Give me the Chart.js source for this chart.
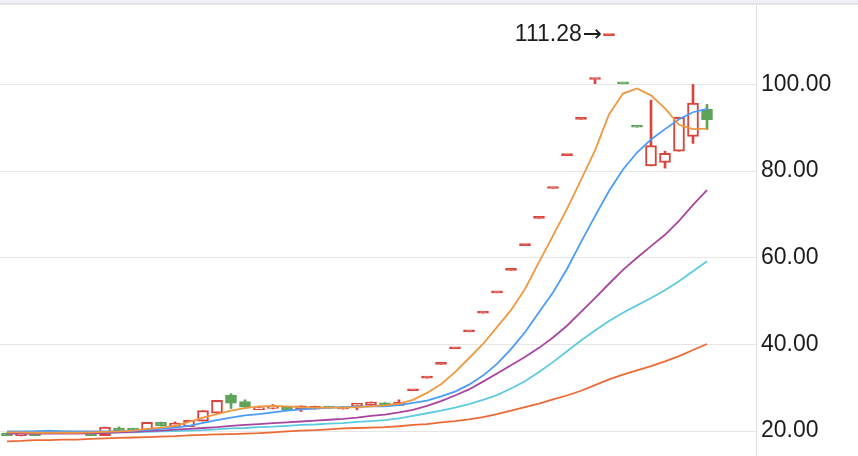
<!DOCTYPE html>
<html>
<head>
<meta charset="utf-8">
<script src="https://cdn.jsdelivr.net/npm/chart.js@4.4.1/dist/chart.umd.min.js"></script>
<style>
  body { margin: 0; background: #fff; }
  .topbar { height: 3px; background: #eef0f5; border-bottom: 2px solid #e2e4e9; }
  canvas { display: block; }
</style>
</head>
<body>
<div class="topbar"></div>
<canvas id="kline" width="858" height="451"></canvas>
<script>
// 54 slots on the x axis, the last 3 are empty space on the right
const days = Array.from({ length: 54 }, (_, i) => 'D' + (i + 1));

const open = [19.55, 18.9, 19.45, 19.5, 19.7, 19.55, 19.1, 18.95, 20.7, 20.6,
  20.05, 22.0, 21.05, 21.0, 22.3, 24.1, 28.3, 26.8, 24.95, 25.2,
  25.5, 25.1, 25.1, 25.6, 25.1, 25.7, 25.9, 26.5, 25.9, 29.3,
  32.2, 35.4, 39.0, 42.9, 47.2, 51.9, 57.1, 62.8, 69.1, 76.0,
  83.6, 91.97, 101.16, 111.28, 100.15, 90.14, 81.2, 82.0, 84.6, 88.0,
  94.3];
const close = [18.95, 19.0, 18.95, 19.7, 19.55, 19.7, 18.95, 20.9, 20.0, 20.2,
  22.0, 21.2, 21.8, 22.45, 24.7, 27.1, 26.4, 25.5, 25.4, 25.8,
  24.8, 25.8, 25.7, 25.3, 25.6, 26.4, 26.7, 25.8, 26.7, 29.3,
  32.2, 35.4, 39.0, 42.9, 47.2, 51.9, 57.1, 62.8, 69.1, 76.0,
  83.6, 91.97, 101.16, 111.28, 100.15, 90.14, 85.9, 84.1, 92.4, 95.7,
  91.9];
const high = [19.6, 19.05, 19.5, 19.75, 19.75, 19.75, 19.15, 20.9, 20.95, 20.65,
  22.0, 22.05, 22.1, 22.45, 24.7, 27.1, 28.6, 27.2, 25.4, 26.1,
  25.55, 25.8, 25.75, 25.65, 25.6, 26.4, 26.7, 26.55, 27.2, 29.3,
  32.2, 35.4, 39.0, 42.9, 47.2, 51.9, 57.1, 62.8, 69.1, 76.0,
  83.6, 91.97, 101.16, 111.28, 100.15, 90.14, 96.4, 84.6, 92.4, 100.0,
  95.4];
const low = [18.9, 18.85, 18.9, 19.45, 19.5, 19.5, 18.9, 18.95, 19.95, 20.15,
  20.05, 21.15, 21.0, 21.0, 22.3, 24.1, 25.2, 25.45, 24.95, 25.1,
  24.75, 24.5, 25.05, 25.25, 25.05, 24.9, 25.85, 25.75, 25.85, 29.3,
  32.2, 35.4, 39.0, 42.9, 47.2, 51.9, 57.1, 62.8, 69.1, 76.0,
  83.6, 91.97, 100.2, 111.28, 100.15, 90.14, 81.2, 80.7, 84.6, 86.4,
  89.6];

const ma5 = [19.7, 19.7, 19.6, 19.6, 19.6, 19.6, 19.7, 19.8, 19.9, 20.1,
  20.5, 20.8, 21.2, 22.1, 23.1, 23.9, 24.7, 25.3, 25.7, 25.8,
  25.7, 25.5, 25.4, 25.4, 25.4, 25.5, 25.7, 25.9, 26.3, 27.2,
  28.8, 30.8, 33.6, 36.8, 40.1, 44.0, 47.9, 52.8, 59.0, 65.1,
  71.3, 78.0, 84.8, 93.1, 97.9, 99.1, 97.5, 94.5, 90.7, 89.7,
  89.8];
const ma10 = [19.9, 19.9, 19.9, 20.0, 19.9, 19.9, 19.9, 19.9, 19.9, 20.1,
  20.2, 20.5, 20.8, 21.2, 21.9, 22.5, 23.1, 23.6, 23.9, 24.3,
  24.7, 25.0, 25.2, 25.4, 25.5, 25.6, 25.7, 25.7, 26.0, 26.5,
  27.0, 28.0, 29.1, 30.7, 32.8, 35.5, 38.9, 42.8, 47.4, 52.0,
  57.4, 63.6, 69.6, 75.4, 80.4, 84.3, 87.3, 89.7, 92.0, 93.6,
  94.4];
const ma20 = [19.4, 19.4, 19.4, 19.4, 19.4, 19.4, 19.45, 19.5, 19.7, 19.8,
  20.0, 20.1, 20.3, 20.5, 20.7, 20.9, 21.2, 21.4, 21.6, 21.8,
  22.0, 22.2, 22.4, 22.6, 22.8, 23.1, 23.5, 23.8, 24.3, 24.9,
  25.8, 26.9, 28.2, 29.6, 31.4, 33.3, 35.2, 37.1, 39.2, 41.6,
  44.3, 47.5, 50.7, 54.0, 57.2, 60.0, 62.7, 65.3, 68.5, 72.2,
  75.6];
const ma30 = [19.8, 19.8, 19.9, 20.1, 19.9, 19.8, 19.7, 19.7, 19.7, 19.7,
  19.8, 19.9, 20.0, 20.1, 20.2, 20.4, 20.6, 20.7, 20.9, 21.0,
  21.2, 21.4, 21.5, 21.7, 21.8, 22.1, 22.3, 22.5, 22.9, 23.5,
  24.1, 24.7, 25.4, 26.2, 27.2, 28.3, 29.8, 31.5, 33.6, 35.9,
  38.4, 40.9, 43.2, 45.4, 47.3, 49.0, 50.7, 52.5, 54.6, 56.9,
  59.2];
const ma60 = [17.6, 17.7, 17.9, 17.9, 18.0, 18.0, 18.2, 18.3, 18.4, 18.5,
  18.6, 18.7, 18.8, 19.0, 19.1, 19.2, 19.3, 19.4, 19.5, 19.7,
  19.9, 20.1, 20.2, 20.4, 20.6, 20.7, 20.8, 20.9, 21.1, 21.4,
  21.6, 22.0, 22.3, 22.7, 23.2, 23.9, 24.7, 25.5, 26.3, 27.3,
  28.2, 29.3, 30.6, 31.9, 33.0, 34.0, 35.0, 36.1, 37.3, 38.7,
  40.1];

const yTicks = [20, 40, 60, 80, 100];

const RED = '#d8453d';
const GREEN = '#5fa25a';

// up = red (hollow), down = green (filled); flat candles take the day's move
const colors = open.map((o, i) => {
  if (close[i] > o) return RED;
  if (close[i] < o) return GREEN;
  return (i > 0 && close[i] < close[i - 1]) ? GREEN : RED;
});
const fills = open.map((o, i) => (close[i] > o ? '#ffffff' : colors[i]));

const bodies = open.map((o, i) => [Math.min(o, close[i]), Math.max(o, close[i])]);
const wicks = low.map((l, i) => [l, high[i]]);

function maLine(data, color) {
  return {
    type: 'line',
    data: data,
    borderColor: color,
    borderWidth: 1.8,
    pointRadius: 0,
    tension: 0,
    fill: false,
    order: 0
  };
}

// label for the highest price, arrow pointing at the candle
const maxLabel = {
  id: 'maxLabel',
  afterDatasetsDraw(chart) {
    let idx = 0;
    high.forEach((h, i) => { if (h > high[idx]) idx = i; });
    const ctx = chart.ctx;
    const x = chart.scales.x.getPixelForValue(idx) - 7;
    const y = chart.scales.y.getPixelForValue(high[idx]) - 1;
    ctx.save();
    ctx.fillStyle = '#1c1c1c';
    ctx.textAlign = 'right';
    ctx.textBaseline = 'middle';
    ctx.font = '23px "DejaVu Sans", sans-serif';
    ctx.fillText('\u2192', x, y);
    const w = ctx.measureText('\u2192').width;
    ctx.font = '23px "Liberation Sans", Arial, sans-serif';
    ctx.fillText(high[idx].toFixed(2), x - w - 1, y);
    ctx.restore();
  }
};

new Chart(document.getElementById('kline'), {
  type: 'bar',
  data: {
    labels: days,
    datasets: [
      maLine(ma5, '#ee9840'),
      maLine(ma10, '#4b9cf6'),
      maLine(ma20, '#a8459f'),
      maLine(ma30, '#5ccbe0'),
      maLine(ma60, '#ec6b35'),
      {
        data: bodies,
        backgroundColor: fills,
        borderColor: colors,
        borderWidth: 2,
        borderSkipped: false,
        barThickness: 11,
        minBarLength: 2,
        grouped: false,
        order: 1
      },
      {
        data: wicks,
        backgroundColor: colors,
        borderWidth: 0,
        barThickness: 2,
        grouped: false,
        order: 2
      }
    ]
  },
  options: {
    responsive: false,
    animation: false,
    devicePixelRatio: 1,
    layout: { padding: 0 },
    plugins: { legend: { display: false }, tooltip: { enabled: false } },
    scales: {
      x: { display: false, offset: true },
      y: {
        position: 'right',
        min: 14.23,
        max: 118.36,
        afterBuildTicks: (s) => { s.ticks = yTicks.map(v => ({ value: v })); },
        afterFit: (s) => { s.width = 102; s.paddingTop = 0; s.paddingBottom = 0; },
        grid: { color: '#e6e6e6', drawTicks: false },
        border: { display: true, color: '#dedede' },
        ticks: {
          padding: 5,
          color: '#1c1c1c',
          font: { family: 'Liberation Sans', size: 23 },
          callback: (v) => Number(v).toFixed(2)
        }
      }
    }
  },
  plugins: [maxLabel]
});
</script>
</body>
</html>
